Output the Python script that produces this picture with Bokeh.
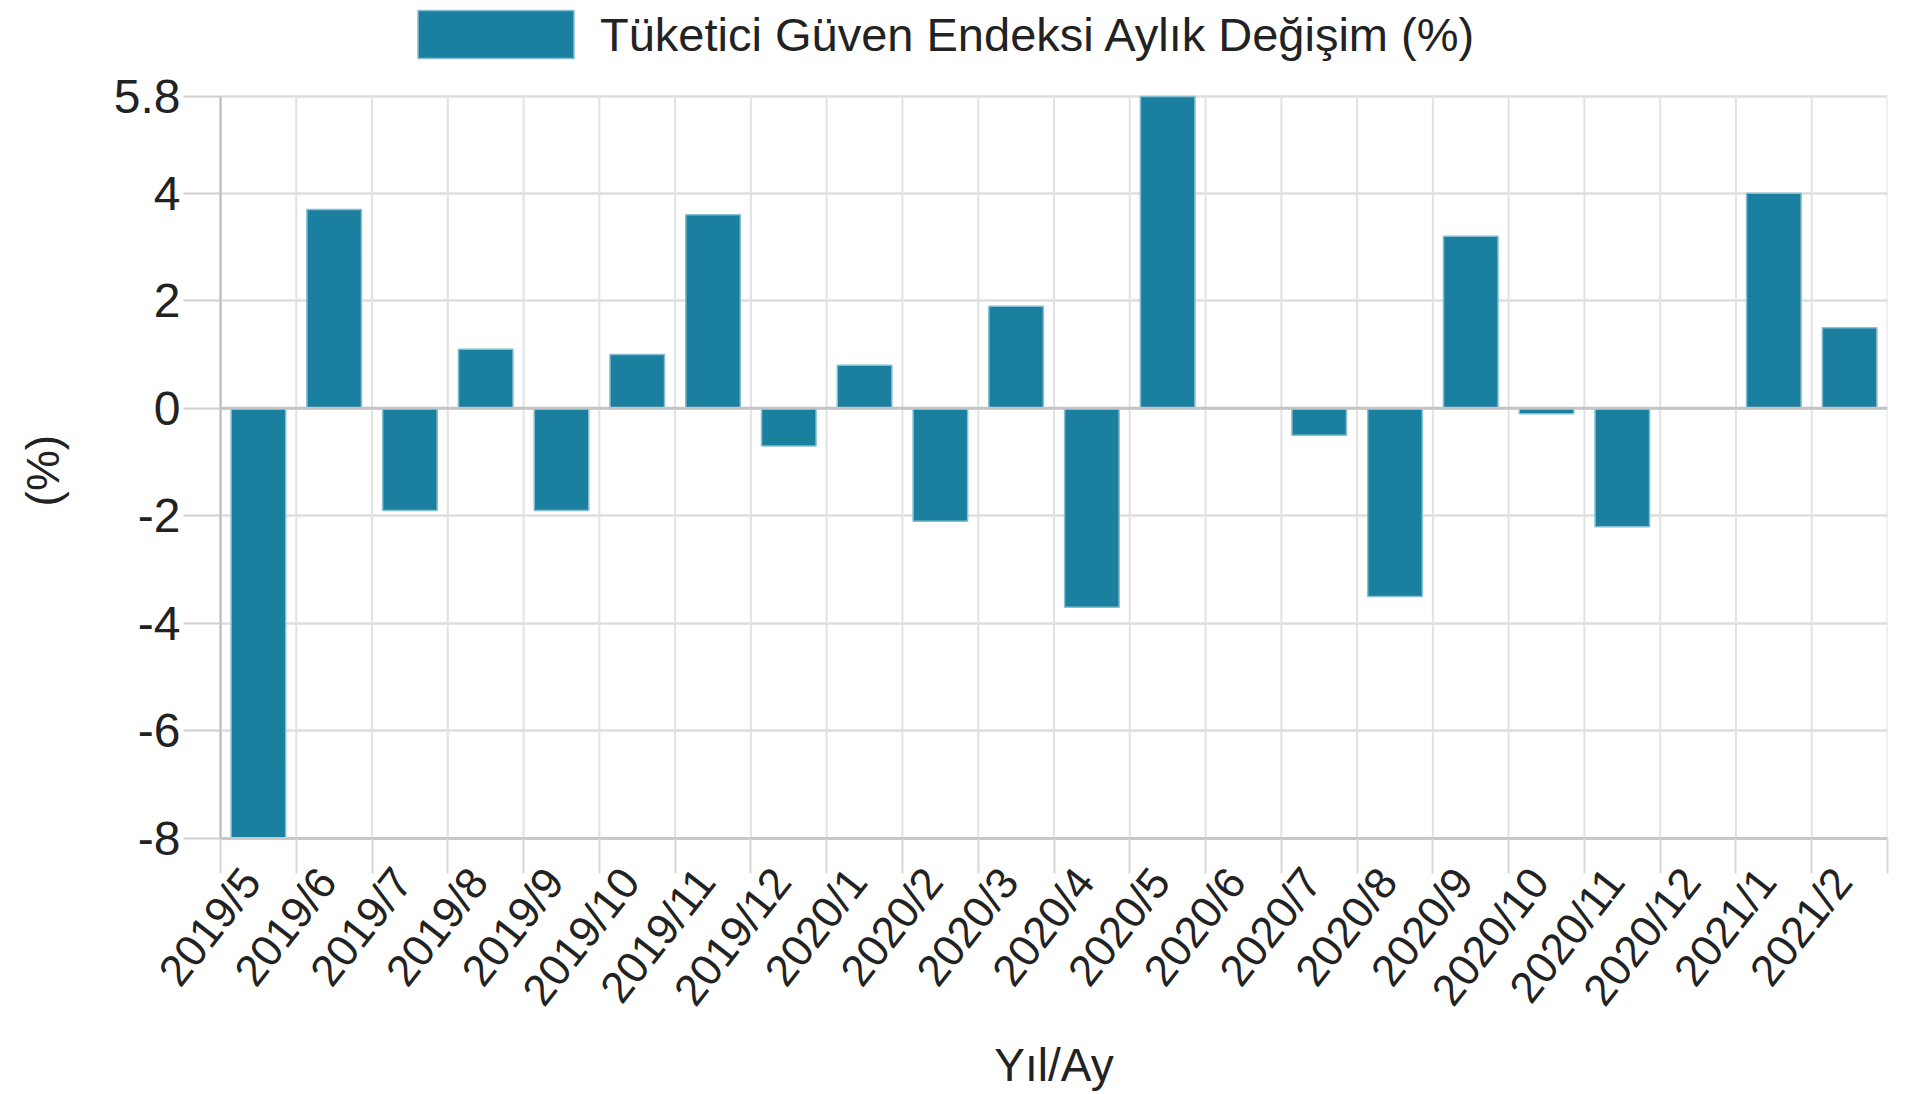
import math
from bokeh.plotting import figure
from bokeh.models import (Range1d, FixedTicker, LinearAxis, Grid, Legend, LegendItem,
                          Span, ColumnDataSource, CustomJSTickFormatter)
from bokeh.embed import file_html
from bokeh.resources import INLINE

months = ["2019/5", "2019/6", "2019/7", "2019/8", "2019/9", "2019/10", "2019/11", "2019/12",
          "2020/1", "2020/2", "2020/3", "2020/4", "2020/5", "2020/6", "2020/7", "2020/8",
          "2020/9", "2020/10", "2020/11", "2020/12", "2021/1", "2021/2"]
values = [-8.0, 3.7, -1.9, 1.1, -1.9, 1.0, 3.6, -0.7,
          0.8, -2.1, 1.9, -3.7, 5.8, 0.0, -0.5, -3.5,
          3.2, -0.1, -2.2, 0.0, 4.0, 1.5]
y_ticks = [-8, -6, -4, -2, 0, 2, 4, 5.8]
y_tick_labels = ["-8", "-6", "-4", "-2", "0", "2", "4", "5.8"]
series_name = "Tüketici Güven Endeksi Aylık Değişim (%)"
x_title = "Yıl/Ay"
y_title = "(%)"

FONT = "Liberation Sans"
TXT = "#222222"
LABEL_SHIFT = -0.1  # label anchor offset inside each category (layout only)

y_min, y_max = min(y_ticks), max(y_ticks)
PLOT_H = 742      # pixel height of the data area
TOP_SPACE = 96    # pixel room above the data area (legend lives there)
y_top = y_max + TOP_SPACE * (y_max - y_min) / PLOT_H

n = len(months)
xs = list(range(n))
boundaries = [i - 0.5 for i in range(n + 1)]
source = ColumnDataSource(dict(x=xs, top=values, month=months))
grid_src = ColumnDataSource(dict(x=boundaries, y0=[y_min] * len(boundaries), y1=[y_max] * len(boundaries)))

p = figure(frame_width=1667, frame_height=PLOT_H + TOP_SPACE,
           x_range=Range1d(-0.5, n - 0.5), y_range=Range1d(y_min, y_top),
           x_axis_type=None, y_axis_type=None,
           output_backend="svg", toolbar_location=None,
           min_border_left=220, min_border_right=14, min_border_top=0, min_border_bottom=0,
           background_fill_color="white", border_fill_color="white", outline_line_color=None)

# grids
p.segment(x0="x", y0="y0", x1="x", y1="y1", source=grid_src, line_color="#e2e2e2", line_width=2)
p.add_layout(Grid(dimension=1, ticker=FixedTicker(ticks=y_ticks),
                  grid_line_color="#dedede", grid_line_width=2.5))
p.add_layout(Span(location=0, dimension="width", line_color="#c4c4c4", line_width=3))

r = p.vbar(x="x", top="top", bottom=0, width=0.72, source=source,
           fill_color="#1b7f9f", line_color="#86bfd2", line_width=1.5)

# y axis (non-breaking spaces shift the centred title down to the data area's middle)
yaxis = LinearAxis(ticker=FixedTicker(ticks=y_ticks), bounds=(y_min, y_max),
                   formatter=CustomJSTickFormatter(args=dict(t=y_ticks, l=y_tick_labels),
                       code="for (let k=0;k<t.length;k++){ if (Math.abs(t[k]-tick)<1e-6) return l[k]; } return '';"),
                   major_tick_out=37, major_tick_in=0, major_tick_line_color="#cfcfcf",
                   major_tick_line_width=2, minor_tick_out=0, minor_tick_in=0,
                   axis_line_color="#b8b8b8", axis_line_width=2,
                   major_label_standoff=3, major_label_text_font_size="48px",
                   major_label_text_font=FONT, major_label_text_color=TXT,
                   axis_label=y_title + "\u00a0" * 8, axis_label_standoff=42,
                   axis_label_text_font_size="46px", axis_label_text_font=FONT,
                   axis_label_text_font_style="normal", axis_label_text_color=TXT)
p.add_layout(yaxis, "left")

# x axis
xaxis = LinearAxis(ticker=FixedTicker(ticks=[x + LABEL_SHIFT for x in xs], minor_ticks=boundaries),
                   formatter=CustomJSTickFormatter(args=dict(labels=months, shift=LABEL_SHIFT),
                       code="const i = Math.round(tick - shift); return (i >= 0 && i < labels.length) ? labels[i] : '';"),
                   major_label_orientation=math.radians(52),
                   major_tick_out=0, major_tick_in=0,
                   minor_tick_out=35, minor_tick_in=0,
                   minor_tick_line_color="#d8d8d8", minor_tick_line_width=2,
                   axis_line_color="#c8c8c8", axis_line_width=3,
                   major_label_standoff=0, major_label_text_font_size="44px",
                   major_label_text_font=FONT, major_label_text_color=TXT,
                   axis_label=x_title, axis_label_standoff=7,
                   axis_label_text_font_size="46px", axis_label_text_font=FONT,
                   axis_label_text_font_style="normal", axis_label_text_color=TXT)
p.add_layout(xaxis, "below")

legend = Legend(items=[LegendItem(label=series_name, renderers=[r])],
                location=(178, 774), orientation="horizontal",
                glyph_width=195, glyph_height=60, label_height=60, label_standoff=7,
                label_text_font_size="47px", label_text_font=FONT, label_text_color=TXT,
                padding=0, margin=0, border_line_alpha=0, background_fill_alpha=0)
p.add_layout(legend, "center")

open("out.html", "w").write(file_html(p, INLINE))
